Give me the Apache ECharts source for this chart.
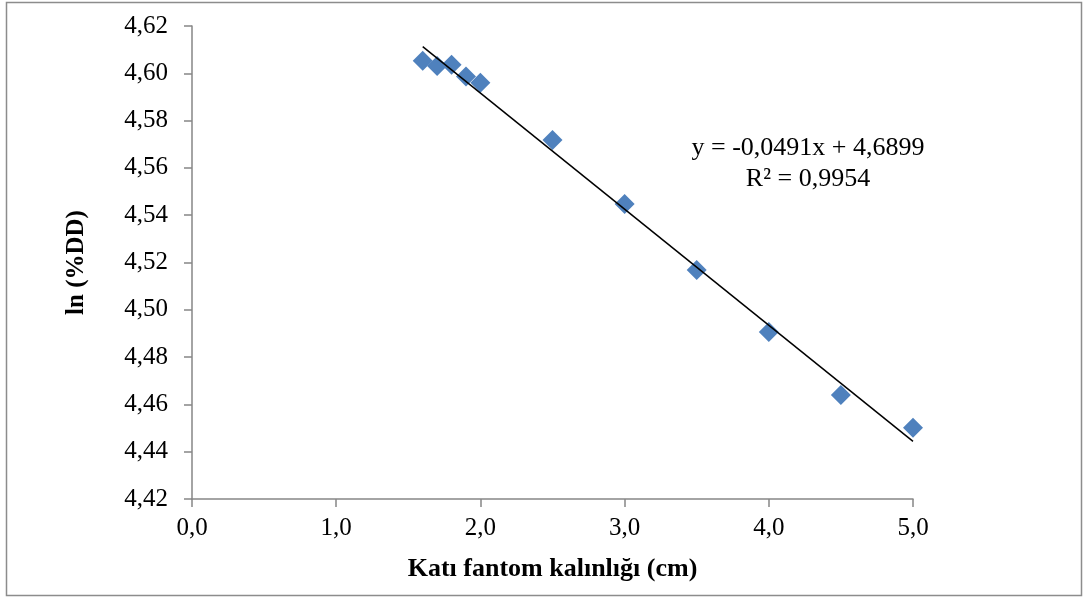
<!DOCTYPE html>
<html><head><meta charset="utf-8">
<script src="https://cdn.jsdelivr.net/npm/echarts@6/dist/echarts.min.js"></script>
<style>html,body{margin:0;padding:0;background:#fff}#c{width:1088px;height:599px}</style>
</head><body><div id="c"></div>
<script>
const thickness = [1.6, 1.7, 1.8, 1.9, 2.0, 2.5, 3.0, 3.5, 4.0, 4.5, 5.0];
const lnDD = [4.6053, 4.6031, 4.6036, 4.5986, 4.5960, 4.5718, 4.5447, 4.5168, 4.4906, 4.4640, 4.4501];
const trendX = [1.6, 5.0];
const trendY = [4.6113, 4.4444];
const equationLines = ['y = -0,0491x + 4,6899', 'R² = 0,9954'];
const xTitle = 'Katı fantom kalınlığı (cm)';
const yTitle = 'ln (%DD)';

const font = '"Liberation Serif", "Times New Roman", serif';
const chart = echarts.init(document.getElementById('c'));
chart.setOption({
  backgroundColor: '#fff',
  animation: false,
  graphic: [{
    type: 'rect', shape: {x: 6.5, y: 2.5, width: 1075, height: 593},
    style: {fill: 'none', stroke: '#8c8c8c', lineWidth: 1.5}, silent: true
  }, {
    type: 'text', x: 808, y: 148,
    style: {text: equationLines[0], font: '26px ' + font, fill: '#000', align: 'center', verticalAlign: 'middle'}
  }, {
    type: 'text', x: 808, y: 179,
    style: {text: equationLines[1], font: '26px ' + font, fill: '#000', align: 'center', verticalAlign: 'middle'}
  }],
  grid: {left: 192, right: 175, top: 26, bottom: 100},
  xAxis: {
    type: 'value', min: 0, max: 5, interval: 1,
    name: xTitle, nameLocation: 'middle', nameGap: 57,
    nameTextStyle: {fontFamily: font, fontSize: 26, fontWeight: 'bold', color: '#000'},
    axisLine: {lineStyle: {color: '#868686', width: 1.5}},
    axisTick: {show: true, inside: false, length: 8, lineStyle: {color: '#868686', width: 1.5}},
    axisLabel: {fontFamily: font, fontSize: 25, color: '#000', margin: 17,
      formatter: v => v.toFixed(1).replace('.', ',')},
    splitLine: {show: false}
  },
  yAxis: {
    type: 'value', min: 4.42, max: 4.62, interval: 0.02,
    name: yTitle, nameLocation: 'middle', nameGap: 103, nameRotate: 90,
    nameTextStyle: {fontFamily: font, fontSize: 25, fontWeight: 'bold', color: '#000'},
    axisLine: {show: true, lineStyle: {color: '#868686', width: 1.5}},
    axisTick: {show: true, inside: false, length: 8, lineStyle: {color: '#868686', width: 1.5}},
    axisLabel: {fontFamily: font, fontSize: 25, color: '#000', margin: 24,
      formatter: v => v.toFixed(2).replace('.', ',')},
    splitLine: {show: false}
  },
  series: [{
    type: 'line', data: trendX.map((x, i) => [x, trendY[i]]),
    symbol: 'none', lineStyle: {color: '#000', width: 1.5}, z: 3, silent: true
  }, {
    type: 'scatter', data: thickness.map((x, i) => [x, lnDD[i]]),
    symbol: 'diamond', symbolSize: [20, 20],
    itemStyle: {color: '#4F81BD', opacity: 1}, z: 2
  }]
});
</script></body></html>
